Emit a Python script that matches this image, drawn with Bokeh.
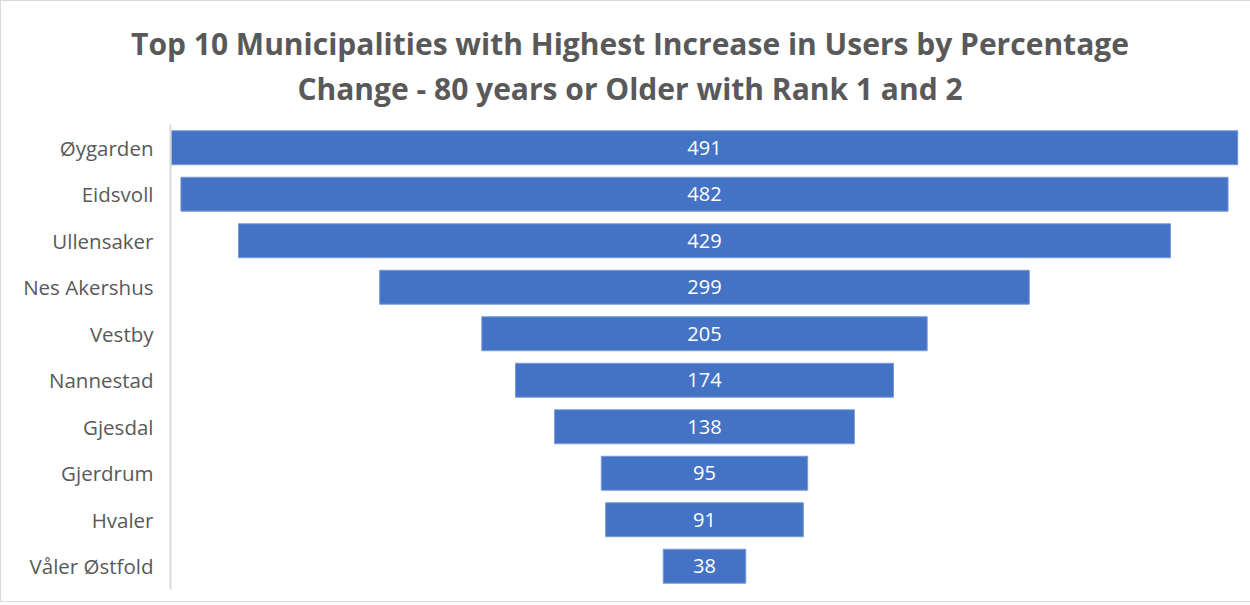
from bokeh.plotting import figure
from bokeh.models import ColumnDataSource, FactorRange, Range1d, Div
from bokeh.layouts import column
from bokeh.embed import file_html
from bokeh.resources import INLINE
from bokeh.core.properties import value

municipalities = ["Øygarden", "Eidsvoll", "Ullensaker", "Nes Akershus", "Vestby",
                  "Nannestad", "Gjesdal", "Gjerdrum", "Hvaler", "Våler Østfold"]
increase_pct = [491, 482, 429, 299, 205, 174, 138, 95, 91, 38]
title_lines = ["Top 10 Municipalities with Highest Increase in Users by Percentage",
               "Change - 80 years or Older with Rank 1 and 2"]

src = ColumnDataSource(dict(
    name=municipalities,
    val=increase_pct,
    left=[-v / 2 for v in increase_pct],
    right=[v / 2 for v in increase_pct],
    mid=[0 for _ in increase_pct],
    lab=[str(v) for v in increase_pct],
))

half = max(increase_pct) / 2
p = figure(width=1248, height=477, output_backend="svg", toolbar_location=None,
           y_range=FactorRange(*reversed(municipalities)),
           x_range=Range1d(-half - 0.3, half + 0.3),
           min_border_left=169, min_border_right=11, min_border_bottom=12, min_border_top=0)

p.hbar(y="name", left="left", right="right", height=0.73, source=src,
       fill_color="#4472C4", line_color="#7a9ad6", line_width=1)

p.text(x="mid", y="name", text="lab", source=src, text_align="center",
       text_baseline="middle", text_color="white", text_font=value("Open Sans"),
       text_font_size="20px")

p.xaxis.visible = False
p.xgrid.visible = False
p.ygrid.visible = False
p.outline_line_color = None

ax = p.yaxis[0]
ax.major_tick_line_color = None
ax.minor_tick_line_color = None
ax.axis_line_color = "#d9d9d9"
ax.axis_line_width = 2
ax.major_label_text_font = "Open Sans"
ax.major_label_text_font_size = "20.5px"
ax.major_label_text_color = "#595959"
ax.major_label_standoff = 11

title_html = "<br>".join(title_lines)
div = Div(text=title_html, width=1248, height=113,
          styles={"text-align": "center", "font-family": "Open Sans", "font-size": "30px",
                  "font-weight": "bold", "color": "#595959", "line-height": "45px",
                  "padding-top": "15px", "box-sizing": "border-box", "width": "1248px"})

layout = column(div, p, spacing=0)
layout.styles = {"border": "1px solid #d9d9d9"}

open("out.html", "w").write(file_html(layout, INLINE))
